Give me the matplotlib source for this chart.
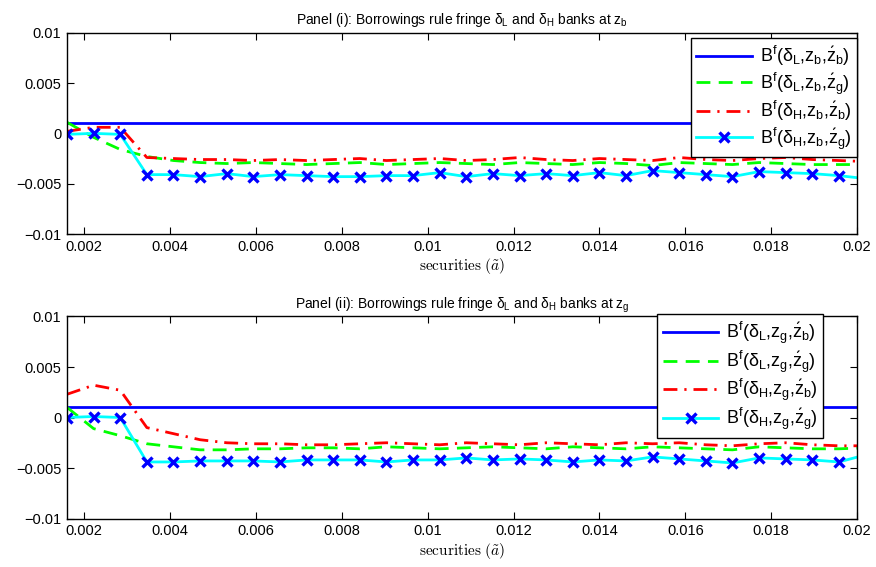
import numpy as np
import matplotlib
matplotlib.use("Agg")
import matplotlib.pyplot as plt
from matplotlib.ticker import FixedLocator

plt.rcParams['font.family'] = ['Liberation Sans', 'DejaVu Sans']
plt.rcParams['mathtext.fontset'] = 'custom'
plt.rcParams['mathtext.rm'] = 'Liberation Sans'
plt.rcParams['mathtext.it'] = 'Liberation Sans'
plt.rcParams['mathtext.bf'] = 'Liberation Sans:bold'

# securities grid
x = [0.0016, 0.00222, 0.00284, 0.00346, 0.00408, 0.0047, 0.00532, 0.00594, 0.00656, 0.00718,
     0.0078, 0.00842, 0.00904, 0.00966, 0.01028, 0.0109, 0.01152, 0.01214, 0.01276, 0.01338,
     0.014, 0.01462, 0.01524, 0.01586, 0.01648, 0.0171, 0.01772, 0.01834, 0.01896, 0.01958, 0.0202]

# Panel (i): at z_b
p1_LbB = [0.001] * 31
p1_LbG = [0.0011, -0.0004, -0.0016, -0.0023, -0.0027, -0.0029,
          -0.0030, -0.0029, -0.0030, -0.0031, -0.0030, -0.0029, -0.0031, -0.0030, -0.0029, -0.0030,
          -0.0031, -0.0029, -0.0030, -0.0031, -0.0029, -0.0030, -0.0032, -0.0029, -0.0030, -0.0031,
          -0.0029, -0.0030, -0.0031, -0.0031, -0.0031]
p1_HbB = [0.0002, 0.0006, 0.0006, -0.0024, -0.0025,
          -0.0026, -0.0026, -0.0027, -0.0026, -0.0027, -0.0026, -0.0025, -0.0027, -0.0026, -0.0025,
          -0.0027, -0.0026, -0.0024, -0.0026, -0.0027, -0.0025, -0.0026, -0.0027, -0.0024, -0.0026,
          -0.0027, -0.0025, -0.0024, -0.0026, -0.0027, -0.0028]
p1_HbG = [-0.0001, 0.0000, -0.0001, -0.0041, -0.0041, -0.0043, -0.0040, -0.0043, -0.0041, -0.0042,
          -0.0043, -0.0043, -0.0042, -0.0042, -0.0039, -0.0043, -0.0040, -0.0042, -0.0040, -0.0042,
          -0.0039, -0.0042, -0.0037, -0.0039, -0.0041, -0.0043, -0.0038, -0.0039, -0.0040, -0.0042,
          -0.0045]

# Panel (ii): at z_g
p2_LgB = [0.001] * 31
p2_LgG = [0.0010, -0.0011, -0.0018, -0.0026, -0.0029, -0.0032, -0.0032, -0.0031, -0.0031, -0.0030,
          -0.0030, -0.0031, -0.0029, -0.0030, -0.0031, -0.0030, -0.0029, -0.0030, -0.0031, -0.0029,
          -0.0030, -0.0031, -0.0029, -0.0030, -0.0031, -0.0032, -0.0029, -0.0030, -0.0031, -0.0031,
          -0.0030]
p2_HgB = [0.0023, 0.0032, 0.0027, -0.0010, -0.0016, -0.0022, -0.0025, -0.0026, -0.0026, -0.0027,
          -0.0027, -0.0026, -0.0025, -0.0026, -0.0027, -0.0025, -0.0026, -0.0027, -0.0025, -0.0026,
          -0.0027, -0.0025, -0.0026, -0.0025, -0.0027, -0.0028, -0.0026, -0.0025, -0.0027, -0.0028,
          -0.0028]
p2_HgG = [0.0000, 0.0001, 0.0000, -0.0044, -0.0044, -0.0043, -0.0043, -0.0043, -0.0044, -0.0042,
          -0.0042, -0.0042, -0.0044, -0.0042, -0.0042, -0.0040, -0.0042, -0.0041, -0.0042, -0.0044,
          -0.0042, -0.0043, -0.0039, -0.0041, -0.0043, -0.0045, -0.0040, -0.0041, -0.0042, -0.0044,
          -0.0037]

xticks = [0.002, 0.004, 0.006, 0.008, 0.01, 0.012, 0.014, 0.016, 0.018, 0.02]
xticklabels = ['0.002', '0.004', '0.006', '0.008', '0.01', '0.012', '0.014', '0.016', '0.018', '0.02']
yticks = [-0.01, -0.005, 0, 0.005, 0.01]
yticklabels = ['\u22120.01', '\u22120.005', '0', '0.005', '0.01']

titles = [r'Panel (i): Borrowings rule fringe $\delta_{\mathrm{L}}$ and $\delta_{\mathrm{H}}$ banks at $z_{\mathrm{b}}$',
          r'Panel (ii): Borrowings rule fringe $\delta_{\mathrm{L}}$ and $\delta_{\mathrm{H}}$ banks at $z_{\mathrm{g}}$']

def lab(d, z, zp):
    return r'$\mathrm{B}^{\mathrm{f}}(\delta_{\mathrm{%s}}{,}z_{\mathrm{%s}}{,}\acute{z}_{\mathrm{%s}})$' % (d, z, zp)

labels1 = [lab('L', 'b', 'b'), lab('L', 'b', 'g'), lab('H', 'b', 'b'), lab('H', 'b', 'g')]
labels2 = [lab('L', 'g', 'b'), lab('L', 'g', 'g'), lab('H', 'g', 'b'), lab('H', 'g', 'g')]

fig = plt.figure(figsize=(8.76, 5.67), dpi=100)
ax1 = fig.add_axes([0.0765, 0.5873, 0.9018, 0.355])
ax2 = fig.add_axes([0.0765, 0.0855, 0.9018, 0.3563])

panels = [
    (ax1, [p1_LbB, p1_LbG, p1_HbB, p1_HbG], labels1, titles[0], (1.0, 0.972)),
    (ax2, [p2_LgB, p2_LgG, p2_HgB, p2_HgG], labels2, titles[1], (0.957, 1.01)),
]

for ax, series, labels, title, anchor in panels:
    ax.plot(x, series[0], color='#0000ff', lw=2.0, label=labels[0])
    ax.plot(x, series[1], color='#00ff00', lw=2.0, ls=(0, (5, 3)), label=labels[1])
    ax.plot(x, series[2], color='#ff0000', lw=2.0, ls=(0, (5, 2.5, 0.8, 2.5)), label=labels[2])
    ax.plot(x, series[3], color='#00ffff', lw=2.0, marker='x', markersize=7,
            markeredgewidth=2.4, markeredgecolor='#0000ff', label=labels[3])
    ax.set_xlim(0.0016, 0.02)
    ax.set_ylim(-0.01, 0.01)
    ax.xaxis.set_major_locator(FixedLocator(xticks))
    ax.set_xticklabels(xticklabels)
    ax.yaxis.set_major_locator(FixedLocator(yticks))
    ax.set_yticklabels(yticklabels)
    ax.tick_params(direction='in', top=True, right=True, labelsize=10.5, length=5, width=0.8, pad=4)
    for sp in ax.spines.values():
        sp.set_linewidth(1.0)
    ax.set_title(title, fontsize=10, pad=6)
    ax.set_xlabel(r'$\mathrm{securities}\ (\tilde{a})$', fontsize=11, math_fontfamily='cm', labelpad=2)
    leg = ax.legend(loc='upper right', bbox_to_anchor=anchor, fontsize=13, frameon=True,
                    fancybox=False, edgecolor='black', handlelength=3.1, labelspacing=0.13,
                    borderpad=0.3, handletextpad=0.4, borderaxespad=0.0)
    leg.get_frame().set_linewidth(1.0)
    leg.get_frame().set_alpha(1.0)

fig.savefig('out.png', dpi=100)
